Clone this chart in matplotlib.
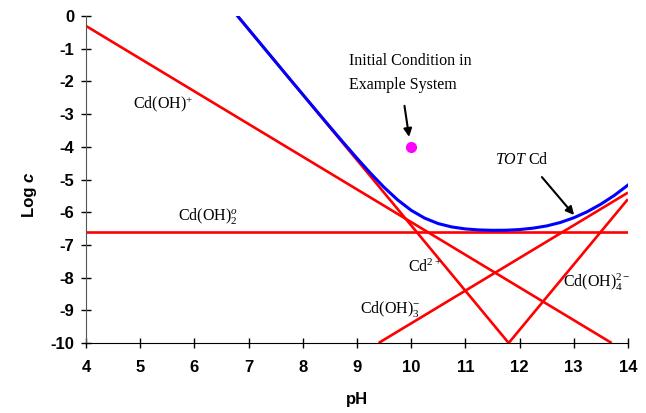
import matplotlib
matplotlib.use('Agg')
import matplotlib.pyplot as plt

plt.rcParams['font.family'] = ['Liberation Sans', 'DejaVu Sans']
plt.rcParams['axes.unicode_minus'] = False
plt.rcParams['mathtext.fontset'] = 'custom'
plt.rcParams['mathtext.rm'] = 'Liberation Serif'
plt.rcParams['mathtext.it'] = 'Liberation Serif:italic'

# species lines (pH, log c) end points
cd2_ph = [6.8, 11.8]
cd2_c = [0.0, -10.0]
cdoh_ph = [4.0, 13.7]
cdoh_c = [-0.3, -10.0]
cdoh2_ph = [4.0, 14.0]
cdoh2_c = [-6.6, -6.6]
cdoh3_ph = [9.4, 14.0]
cdoh3_c = [-10.0, -5.4]
cdoh4_ph = [11.8, 14.0]
cdoh4_c = [-10.0, -5.6]

# TOT Cd curve
tot_ph = [6.8, 7.0, 7.25, 7.5, 7.75, 8.0, 8.25, 8.5, 8.75, 9.0, 9.25, 9.5, 9.75,
          10.0, 10.25, 10.5, 10.75, 11.0, 11.25, 11.5, 11.75, 12.0, 12.25, 12.5,
          12.75, 13.0, 13.25, 13.5, 13.75, 14.0]
tot_c = [0.0, -0.40, -0.90, -1.40, -1.90, -2.395, -2.89, -3.383, -3.87, -4.346,
         -4.805, -5.236, -5.62, -5.94, -6.18, -6.347, -6.45, -6.51, -6.541, -6.553,
         -6.55, -6.53, -6.487, -6.419, -6.315, -6.17, -5.984, -5.754, -5.484, -5.17]

init_ph = [10.0]
init_c = [-4.0]

fig = plt.figure(figsize=(6.46, 4.13), dpi=100)
ax = fig.add_axes([0.133, 0.1695, 0.839, 0.7915])

red = '#ff0000'
for xs, ys in [(cd2_ph, cd2_c), (cdoh_ph, cdoh_c), (cdoh2_ph, cdoh2_c),
               (cdoh3_ph, cdoh3_c), (cdoh4_ph, cdoh4_c)]:
    ax.plot(xs, ys, color=red, lw=1.9, solid_capstyle='butt')
ax.plot(tot_ph, tot_c, color='#0000ff', lw=2.2)
ax.plot(init_ph, init_c, 'o', color='#ff00ff', ms=7, zorder=5)

ax.set_xlim(4, 14)
ax.set_ylim(-10, 0)
ax.set_xticks(range(4, 15))
ax.set_yticks(range(-10, 1))
for s in ['top', 'right']:
    ax.spines[s].set_visible(False)
ax.spines['left'].set_color('#555555')
ax.tick_params(direction='inout', length=7, width=1, labelsize=12)
ax.tick_params(axis='x', pad=9)
ax.tick_params(axis='y', pad=5)
for lab in ax.get_xticklabels() + ax.get_yticklabels():
    lab.set_fontweight('bold')
ax.set_xlabel('pH', fontsize=12, fontweight='bold', labelpad=12)
fig.text(0.045, 0.56, 'Log ', rotation=90, fontsize=12, fontweight='bold',
         ha='center', va='top')
fig.text(0.045, 0.56, 'c', rotation=90, fontsize=12, fontweight='bold',
         style='italic', ha='center', va='bottom')

tfont = dict(family='Liberation Serif', fontsize=11.5)
ax.text(4.87, -2.7, r'$\mathrm{Cd(OH)}^{+}$', va='center', **tfont)
ax.text(5.7, -6.1, r'$\mathrm{Cd(OH)}_{2}^{o}$', va='center', **tfont)
ax.text(8.85, -1.75, 'Initial Condition in\nExample System', va='center',
        linespacing=1.65, **tfont)
ax.annotate('', xy=(9.97, -3.78), xytext=(9.87, -2.66),
            arrowprops=dict(arrowstyle='-|>', color='black', lw=1.5, mutation_scale=12))
ax.text(11.55, -4.4, r'$\mathit{TOT}\ \mathrm{Cd}$', va='center', **tfont)
ax.annotate('', xy=(13.04, -6.15), xytext=(12.38, -4.86),
            arrowprops=dict(arrowstyle='-|>', color='black', lw=1.5, mutation_scale=12))
ax.text(9.94, -7.7, r'$\mathrm{Cd}^{2+}$', va='center', **tfont)
ax.text(9.05, -8.95, r'$\mathrm{Cd(OH)}_{3}^{-}$', va='center', **tfont)
ax.text(12.8, -8.15, r'$\mathrm{Cd(OH)}_{4}^{2-}$', va='center', **tfont)

fig.savefig('out.png', dpi=100)
